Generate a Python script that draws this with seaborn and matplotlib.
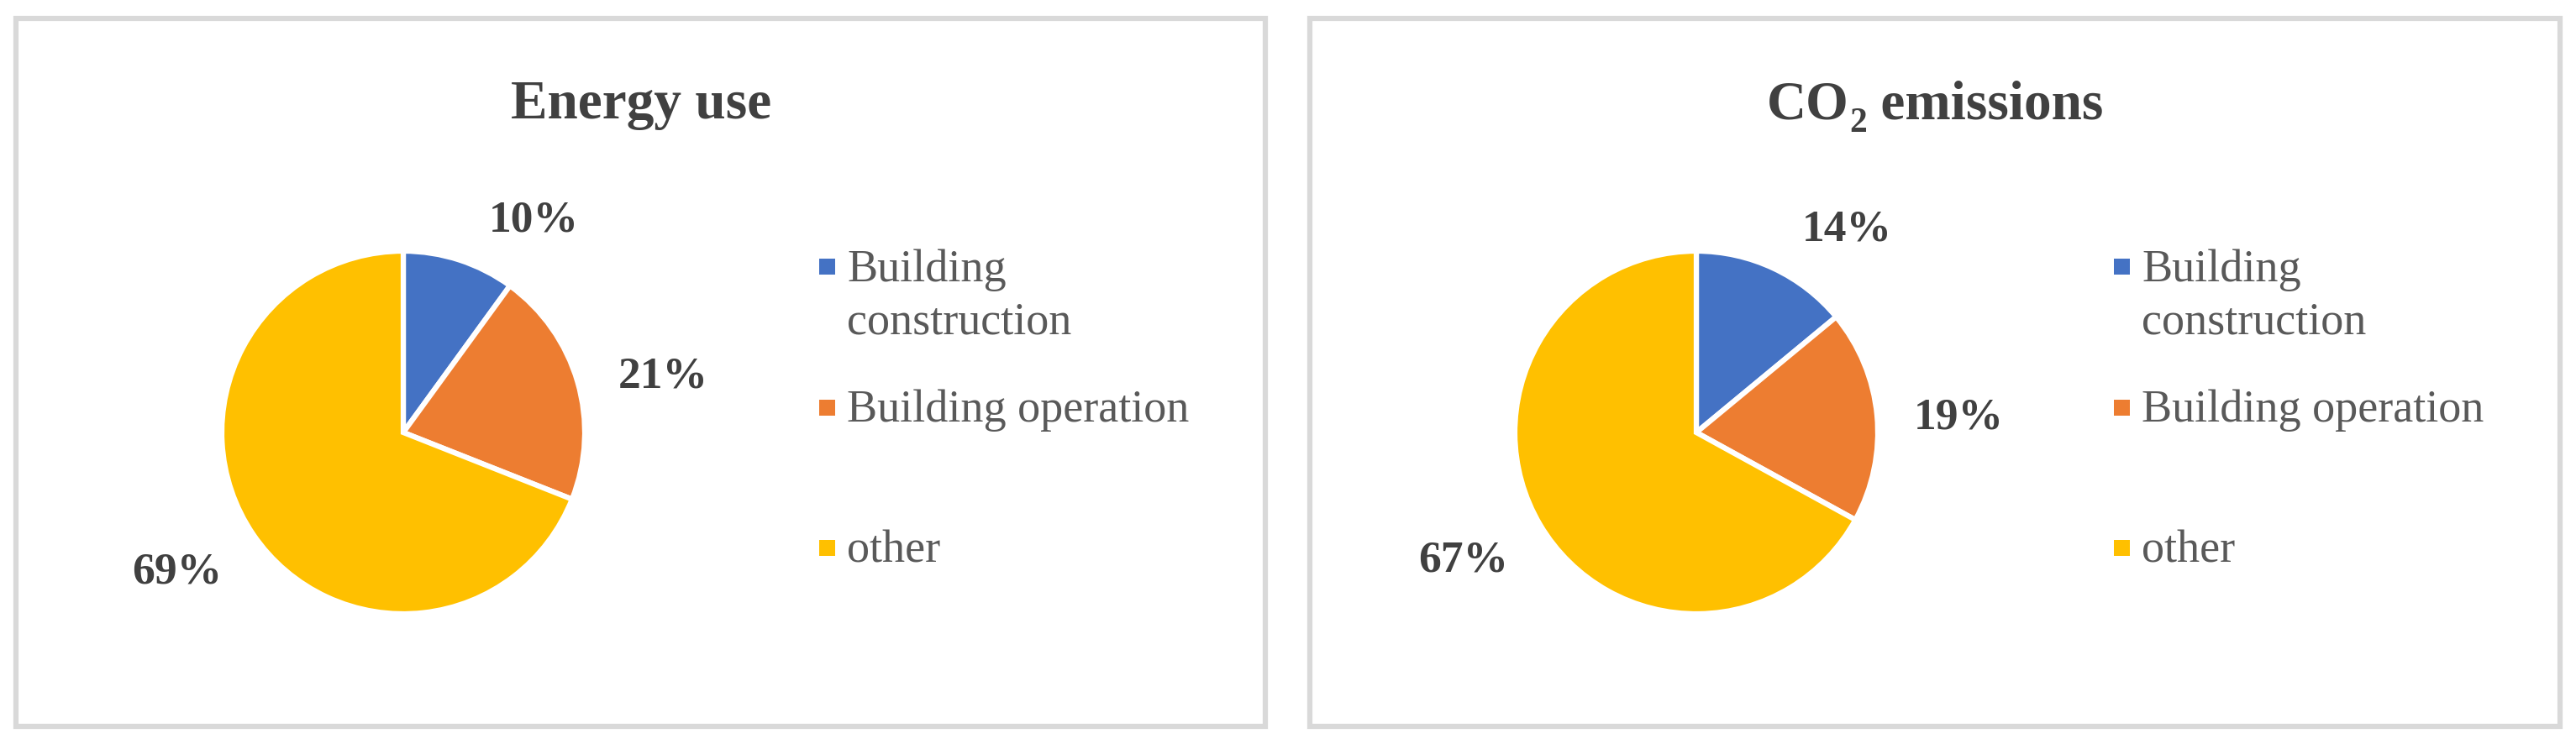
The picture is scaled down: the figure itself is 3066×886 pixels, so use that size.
import matplotlib
matplotlib.use("Agg")
import matplotlib.pyplot as plt
import seaborn as sns
from matplotlib.patches import Rectangle

## Data
categories = ["Building construction", "Building operation", "other"]
legend_lines = [["Building", "construction"], ["Building operation"], ["other"]]
energy_share = [10, 21, 69]
co2_share = [14, 19, 67]
# title pieces: (text, is_subscript)
titles = [[("Energy use", False)],
          [("CO", False), ("2", True), (" emissions", False)]]

## Style
sns.set_theme(style="white")
colors = sns.color_palette(["#4472C4", "#ED7D31", "#FFC000"])
plt.rcParams["font.family"] = ["Liberation Serif", "DejaVu Serif"]

W, H = 3066, 886
fig = plt.figure(figsize=(W / 100, H / 100), dpi=100)
fig.patch.set_facecolor("white")

# background canvas in pixel units for frames, titles and legends
canvas = fig.add_axes([0, 0, 1, 1])
canvas.set_xlim(0, W)
canvas.set_ylim(H, 0)
canvas.axis("off")
renderer = fig.canvas.get_renderer()

# layout per panel: frame box, pie centre, label spots (in pie radius units)
panels = [
    dict(frame=(18.5, 22, 1487, 842.5), centre=(480, 515), title_x=763,
         label_xy=[(0.72, 1.11), (1.43, 0.25), (-1.245, -0.83)], leg_dx=495),
    dict(frame=(1558.5, 22, 1488, 842.5), centre=(2019, 515), title_x=2303,
         label_xy=[(0.83, 1.06), (1.444, 0.02), (-1.282, -0.764)], leg_dx=497),
]
shares = [energy_share, co2_share]
R = 216


def draw_title(x_centre, baseline, pieces):
    # place pieces side by side, then shift so the whole title is centred
    items = []
    x = 0
    for txt, sub in pieces:
        t = canvas.text(x, baseline + (16 if sub else 0), txt, ha="left", va="baseline",
                        fontsize=30 if sub else 47, fontweight="bold", color="#404040")
        w = t.get_window_extent(renderer).width
        items.append((t, x))
        x += w
    start = x_centre - x / 2
    for t, off in items:
        t.set_x(start + off)


for p, vals, title in zip(panels, shares, titles):
    fx, fy, fw, fh = p["frame"]
    canvas.add_patch(Rectangle((fx, fy), fw, fh, fill=False,
                               edgecolor="#D9D9D9", linewidth=4.5))
    draw_title(p["title_x"], 141, title)

    cx, cy = p["centre"]
    half = R + 3
    ax = fig.add_axes([(cx - half) / W, (H - cy - half) / H, 2 * half / W, 2 * half / H])
    wedges, texts, autotexts = ax.pie(
        vals, colors=colors, startangle=90, counterclock=False,
        autopct="%1.0f%%", radius=1,
        wedgeprops=dict(edgecolor="white", linewidth=4.5),
        textprops=dict(fontsize=38.5, fontweight="bold", color="#404040"))
    ax.set_xlim(-half / R, half / R)
    ax.set_ylim(-half / R, half / R)
    for t, (lx, ly) in zip(autotexts, p["label_xy"]):
        t.set_position((lx, ly))
        t.set_ha("center")
        t.set_va("baseline")

    # legend
    lx = cx + p["leg_dx"]
    for i, (lines, c) in enumerate(zip(legend_lines, colors)):
        base = 335 + i * 167.5
        canvas.add_patch(Rectangle((lx, base - 27), 19, 19, facecolor=c, edgecolor="none"))
        for j, line in enumerate(lines):
            canvas.text(lx + 33, base + j * 62, line, ha="left", va="baseline",
                        fontsize=39, color="#595959")

fig.savefig("out.png", dpi=100, facecolor="white")
